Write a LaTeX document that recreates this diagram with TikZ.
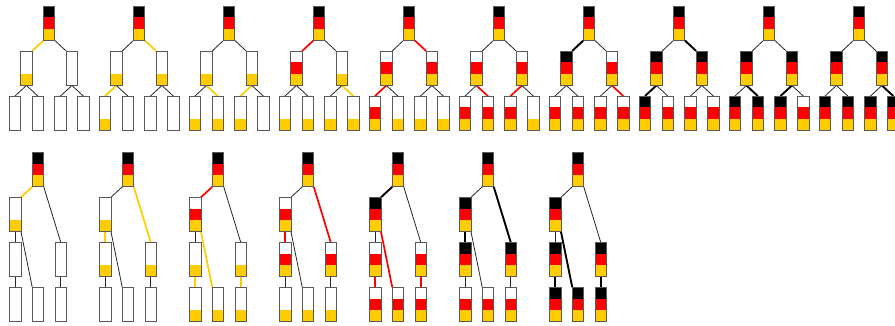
\documentclass[tikz,border=0pt]{standalone}
\usetikzlibrary{backgrounds}
\definecolor{flagblack}{HTML}{000000}
\definecolor{flagred}{HTML}{FF0000}
\definecolor{flaggold}{HTML}{FFCC00}
\definecolor{boxrim}{HTML}{5A5A5A}
\begin{document}
\begin{tikzpicture}[x=1pt,y=-1pt,
  cellbox/.style={draw=boxrim, line width=0.9pt, fill=white,
    minimum width=11.5pt, minimum height=34.5pt,
    inner sep=0pt, outer sep=0pt, anchor=north},
  s0/.style={},
  sG/.style={path picture={
    \fill[flaggold] (path picture bounding box.south west) rectangle ++(11.5pt,11.5pt);}},
  sRG/.style={path picture={
    \fill[flaggold] (path picture bounding box.south west) rectangle ++(11.5pt,11.5pt);
    \fill[flagred] ([yshift=11.5pt]path picture bounding box.south west) rectangle ++(11.5pt,11.5pt);}},
  sBRG/.style={path picture={
    \fill[flaggold] (path picture bounding box.south west) rectangle ++(11.5pt,11.5pt);
    \fill[flagred] ([yshift=11.5pt]path picture bounding box.south west) rectangle ++(11.5pt,11.5pt);
    \fill[flagblack] ([yshift=23pt]path picture bounding box.south west) rectangle ++(11.5pt,11.5pt);}},
  ln/.style={draw=black!85, line width=0.8pt},
  eg/.style={draw=flaggold, line width=1.7pt},
  er/.style={draw=flagred, line width=1.7pt},
  eb/.style={draw=flagblack, line width=1.9pt}
]
\useasboundingbox (0,0) rectangle (895,326);

% upper row: complete binary trees of depth two
\foreach \k/\sL/\sR/\sLL/\sLR/\sRL/\sRR/\ea/\eb/\ec/\ed/\ee/\ef in {
  1/sG/s0/s0/s0/s0/s0/eg/ln/ln/ln/ln/ln,
  2/sG/sG/sG/s0/s0/s0/ln/eg/eg/ln/ln/ln,
  3/sG/sG/sG/sG/sG/s0/ln/ln/ln/eg/eg/ln,
  4/sRG/sG/sG/sG/sG/sG/er/ln/ln/ln/ln/eg,
  5/sRG/sRG/sRG/sG/sG/sG/ln/er/er/ln/ln/ln,
  6/sRG/sRG/sRG/sRG/sRG/sG/ln/ln/ln/er/er/ln,
  7/sBRG/sRG/sRG/sRG/sRG/sRG/eb/ln/ln/ln/ln/er,
  8/sBRG/sBRG/sBRG/sRG/sRG/sRG/ln/eb/eb/ln/ln/ln,
  9/sBRG/sBRG/sBRG/sBRG/sBRG/sRG/ln/ln/ln/eb/eb/ln,
  10/sBRG/sBRG/sBRG/sBRG/sBRG/sBRG/ln/ln/ln/ln/ln/eb}{
  \pgfmathsetmacro\xb{49.15+90*(\k-1)}
  \node[cellbox,sBRG] (u\k-r)  at (\xb,6) {};
  \node[cellbox,\sL]  (u\k-l)  at (\xb-22.75,51) {};
  \node[cellbox,\sR]  (u\k-rr) at (\xb+22.75,51) {};
  \node[cellbox,\sLL] (u\k-ll) at (\xb-34.15,96) {};
  \node[cellbox,\sLR] (u\k-lr) at (\xb-11.35,96) {};
  \node[cellbox,\sRL] (u\k-rl) at (\xb+11.35,96) {};
  \node[cellbox,\sRR] (u\k-r4) at (\xb+34.15,96) {};
  \begin{scope}[on background layer]
    \draw[\ea] (u\k-r.south west) -- (u\k-l.north east);
    \draw[\eb] (u\k-r.south east) -- (u\k-rr.north west);
    \draw[\ec] (u\k-l.south) -- (u\k-ll.north);
    \draw[\ed] (u\k-l.south) -- (u\k-lr.north);
    \draw[\ee] (u\k-rr.south) -- (u\k-rl.north);
    \draw[\ef] (u\k-rr.south) -- (u\k-r4.north);
  \end{scope}
}

% lower row: unbalanced trees of depth three
\foreach \k/\sA/\sB/\sC/\sE/\sD/\sF/\ea/\eb/\ec/\ed/\ee/\ef in {
  1/sG/s0/s0/s0/s0/s0/eg/ln/ln/ln/ln/ln,
  2/sG/sG/sG/s0/s0/s0/ln/eg/eg/ln/ln/ln,
  3/sRG/sG/sG/sG/sG/sG/er/ln/ln/eg/eg/eg,
  4/sRG/sRG/sRG/sG/sG/sG/ln/er/er/ln/ln/ln,
  5/sBRG/sRG/sRG/sRG/sRG/sRG/eb/ln/ln/er/er/er,
  6/sBRG/sBRG/sBRG/sRG/sRG/sRG/ln/eb/eb/ln/ln/ln,
  7/sBRG/sBRG/sBRG/sBRG/sBRG/sBRG/ln/ln/ln/eb/eb/eb}{
  \pgfmathsetmacro\xb{38+90*(\k-1)}
  \node[cellbox,sBRG] (w\k-r) at (\xb,152.3) {};
  \node[cellbox,\sA]  (w\k-a) at (\xb-22.75,197.3) {};
  \node[cellbox,\sB]  (w\k-b) at (\xb-22.75,242.3) {};
  \node[cellbox,\sC]  (w\k-c) at (\xb+22.75,242.3) {};
  \node[cellbox,\sE]  (w\k-e) at (\xb-22.75,287.3) {};
  \node[cellbox,\sD]  (w\k-d) at (\xb,287.3) {};
  \node[cellbox,\sF]  (w\k-f) at (\xb+22.75,287.3) {};
  \begin{scope}[on background layer]
    \draw[\ea] (w\k-r.south west) -- (w\k-a.north east);
    \draw[\eb] (w\k-r.south east) -- (w\k-c.north);
    \draw[\ec] (w\k-a.south) -- (w\k-b.north);
    \draw[\ed] (w\k-a.south east) -- (w\k-d.north west);
    \draw[\ee] (w\k-b.south) -- (w\k-e.north);
    \draw[\ef] (w\k-c.south) -- (w\k-f.north);
  \end{scope}
}
\end{tikzpicture}
\end{document}
